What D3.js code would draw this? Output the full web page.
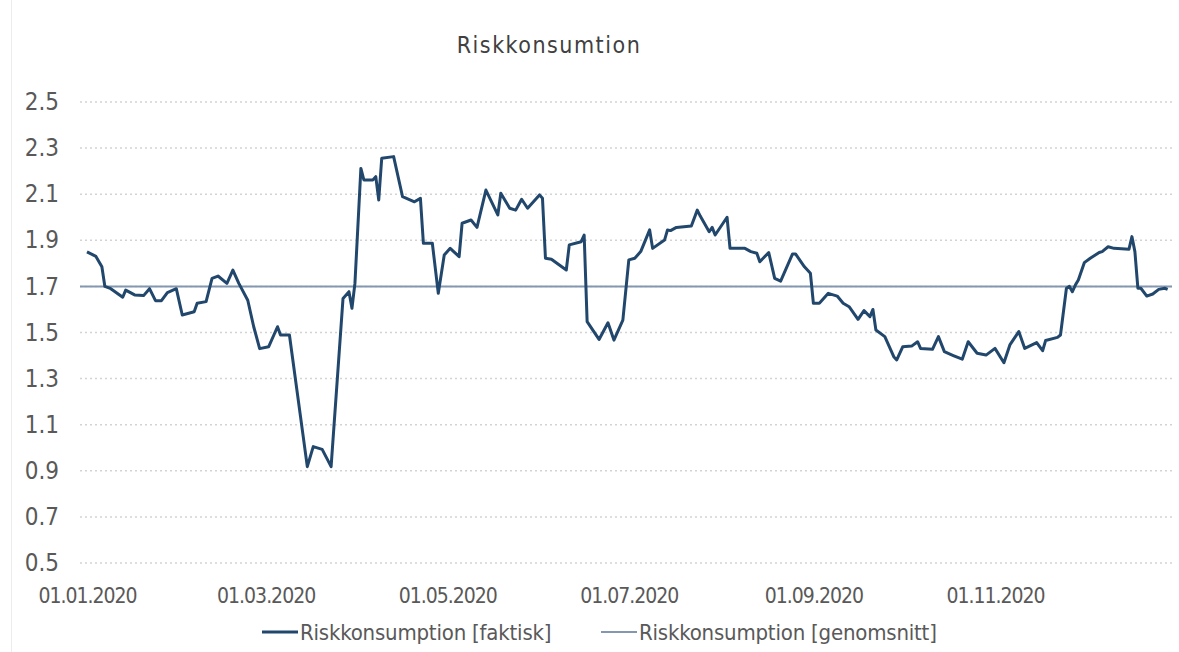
<!DOCTYPE html>
<html>
<head>
<meta charset="utf-8">
<script src="https://cdn.jsdelivr.net/npm/d3@7/dist/d3.min.js"></script>
<style>
  html, body { margin: 0; padding: 0; background: #ffffff; }
  svg text { font-family: "Liberation Sans Narrow", "DejaVu Sans Condensed", "Liberation Sans", Arial, sans-serif; fill: #595959; }
</style>
</head>
<body>
<svg id="chart" width="1179" height="652"></svg>
<script>
const title = "Riskkonsumtion";
const seriesNames = ["Riskkonsumption [faktisk]", "Riskkonsumption [genomsnitt]"];
const dates = [
"2020-01-01","2020-01-04","2020-01-06","2020-01-07","2020-01-09","2020-01-13","2020-01-14","2020-01-17","2020-01-20","2020-01-22",
"2020-01-24","2020-01-26","2020-01-28","2020-01-31","2020-02-02","2020-02-06","2020-02-07","2020-02-10","2020-02-12","2020-02-14",
"2020-02-17","2020-02-19","2020-02-21","2020-02-24","2020-02-26","2020-02-28","2020-03-02","2020-03-05","2020-03-06","2020-03-09",
"2020-03-15","2020-03-17","2020-03-20","2020-03-23","2020-03-27","2020-03-29","2020-03-30","2020-03-31","2020-04-02","2020-04-03",
"2020-04-06","2020-04-07","2020-04-08","2020-04-09","2020-04-13","2020-04-16","2020-04-20","2020-04-22","2020-04-23","2020-04-26",
"2020-04-28","2020-04-30","2020-05-02","2020-05-05","2020-05-06","2020-05-09","2020-05-11","2020-05-14","2020-05-18","2020-05-19",
"2020-05-22","2020-05-24","2020-05-26","2020-05-28","2020-06-01","2020-06-02","2020-06-03","2020-06-05","2020-06-10","2020-06-11",
"2020-06-15","2020-06-16","2020-06-17","2020-06-21","2020-06-24","2020-06-26","2020-06-29","2020-07-01","2020-07-03","2020-07-05",
"2020-07-08","2020-07-09","2020-07-13","2020-07-14","2020-07-15","2020-07-17","2020-07-22","2020-07-24","2020-07-25","2020-07-28",
"2020-07-29","2020-07-30","2020-08-03","2020-08-04","2020-08-09","2020-08-11","2020-08-13","2020-08-14","2020-08-17","2020-08-19",
"2020-08-21","2020-08-25","2020-08-26","2020-08-29","2020-08-31","2020-09-01","2020-09-03","2020-09-06","2020-09-09","2020-09-11",
"2020-09-13","2020-09-16","2020-09-18","2020-09-20","2020-09-21","2020-09-22","2020-09-25","2020-09-28","2020-09-29","2020-10-01",
"2020-10-04","2020-10-06","2020-10-07","2020-10-11","2020-10-13","2020-10-15","2020-10-18","2020-10-21","2020-10-23","2020-10-26",
"2020-10-29","2020-11-01","2020-11-04","2020-11-06","2020-11-09","2020-11-11","2020-11-15","2020-11-17","2020-11-18","2020-11-22",
"2020-11-23","2020-11-25","2020-11-26","2020-11-27","2020-11-28","2020-11-29","2020-12-01","2020-12-03","2020-12-06","2020-12-07",
"2020-12-09","2020-12-11","2020-12-16","2020-12-17","2020-12-18","2020-12-19","2020-12-20","2020-12-22","2020-12-24","2020-12-26",
"2020-12-28","2020-12-29"
];
const actual = [
1.85,1.83,1.785,1.70,1.69,1.653,1.684,1.663,1.66,1.69,
1.638,1.638,1.673,1.69,1.576,1.59,1.627,1.634,1.735,1.745,
1.713,1.771,1.713,1.64,1.525,1.43,1.438,1.525,1.489,1.489,
0.918,1.005,0.993,0.918,1.648,1.677,1.605,1.713,2.212,2.162,
2.162,2.176,2.075,2.256,2.263,2.089,2.067,2.082,1.887,1.887,
1.67,1.836,1.865,1.829,1.974,1.988,1.956,2.118,2.01,2.104,
2.039,2.031,2.078,2.039,2.097,2.082,1.822,1.818,1.771,1.88,
1.894,1.923,1.547,1.47,1.542,1.467,1.554,1.815,1.822,1.851,
1.945,1.865,1.901,1.945,1.942,1.956,1.962,2.031,2.005,1.937,
1.956,1.923,2.0,1.865,1.865,1.851,1.844,1.807,1.847,1.735,
1.723,1.841,1.841,1.785,1.757,1.627,1.627,1.67,1.658,1.627,
1.612,1.557,1.595,1.569,1.60,1.511,1.482,1.395,1.381,1.438,
1.441,1.46,1.431,1.427,1.482,1.417,1.40,1.384,1.46,1.41,
1.402,1.431,1.369,1.446,1.504,1.431,1.456,1.421,1.465,1.479,
1.489,1.692,1.70,1.677,1.706,1.728,1.803,1.822,1.847,1.851,
1.872,1.865,1.861,1.916,1.851,1.692,1.692,1.658,1.667,1.687,
1.692,1.687
];
const averageValue = 1.70;
const yTicks = [0.5, 0.7, 0.9, 1.1, 1.3, 1.5, 1.7, 1.9, 2.1, 2.3, 2.5];
const xTickDates = ["2020-01-01","2020-03-01","2020-05-01","2020-07-01","2020-09-01","2020-11-01"];

const parse = d3.utcParse("%Y-%m-%d");
const fmt = d3.utcFormat("%d.%m.%Y");
const data = dates.map((d, i) => ({ date: parse(d), value: actual[i] }));

const svg = d3.select("#chart");
const x = d3.scaleUtc().domain([parse("2020-01-01"), parse("2020-12-31")]).range([87, 1173.6]);
const y = d3.scaleLinear().domain([0.5, 2.5]).range([563, 102]);
const gridLeft = 80, gridRight = 1172;

svg.append("rect").attr("width", 1179).attr("height", 652).attr("fill", "#ffffff");
svg.append("line").attr("x1", 11.5).attr("x2", 11.5).attr("y1", 0).attr("y2", 652)
  .attr("stroke", "#ececec").attr("stroke-width", 1);

// Title
svg.append("text").attr("x", 549).attr("y", 53).attr("text-anchor", "middle")
  .style("font-size", "23px").style("letter-spacing", "1.5px").style("fill", "#404040").text(title);

// Gridlines
svg.append("g").selectAll("line").data(yTicks).join("line")
  .attr("x1", gridLeft).attr("x2", gridRight)
  .attr("y1", d => y(d)).attr("y2", d => y(d))
  .attr("stroke", "#d3d3d3").attr("stroke-width", 1.5).attr("stroke-dasharray", "2,3");

// Y axis labels
const yAxis = d3.axisLeft(y).tickValues(yTicks).tickFormat(d3.format(".1f")).tickSize(0).tickPadding(0);
const yg = svg.append("g").attr("transform", "translate(59,0)").call(yAxis);
yg.select(".domain").remove();
yg.selectAll("text").style("font-size", "24px").style("font-family", null).attr("fill", "#595959");

// X axis labels
const xAxis = d3.axisBottom(x).tickValues(xTickDates.map(parse)).tickFormat(fmt).tickSize(0).tickPadding(0);
const xg = svg.append("g").attr("transform", "translate(0,588)").call(xAxis);
xg.select(".domain").remove();
xg.selectAll("text").style("font-size", "21px").style("letter-spacing", "-1px")
  .style("font-family", null).attr("fill", "#595959");

// Average line
svg.append("line").attr("x1", gridLeft).attr("x2", gridRight)
  .attr("y1", y(averageValue)).attr("y2", y(averageValue))
  .attr("stroke", "#8497b0").attr("stroke-width", 2);

// Actual line
const line = d3.line().x(d => x(d.date)).y(d => y(d.value));
svg.append("path").datum(data).attr("d", line)
  .attr("fill", "none").attr("stroke", "#22476d").attr("stroke-width", 3).attr("stroke-linejoin", "round");

// Legend
const legend = svg.append("g");
const legendItems = [
  { name: seriesNames[0], color: "#22476d", width: 3, x: 262 },
  { name: seriesNames[1], color: "#8497b0", width: 2, x: 601 }
];
legendItems.forEach(it => {
  legend.append("line").attr("x1", it.x).attr("x2", it.x + 36).attr("y1", 632).attr("y2", 632)
    .attr("stroke", it.color).attr("stroke-width", it.width);
  legend.append("text").attr("x", it.x + 38).attr("y", 640)
    .style("font-size", "22px").style("letter-spacing", "-0.2px").text(it.name);
});
</script>
</body>
</html>
